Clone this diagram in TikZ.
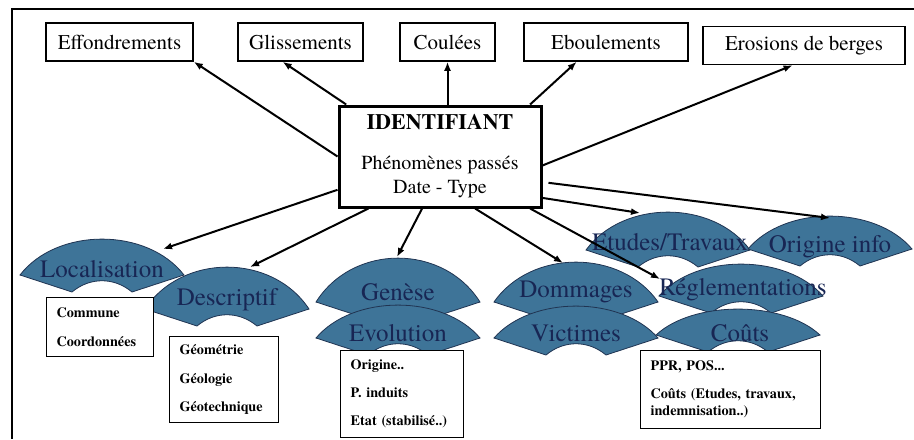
\documentclass[tikz,border=0pt]{standalone}
\usepackage{fontspec}
\setmainfont{TeX Gyre Termes}
\usepackage{xcolor}
\usepackage{tikz}
\usetikzlibrary{arrows.meta}

\definecolor{fanblue}{RGB}{62,116,152}
\definecolor{fanedge}{RGB}{32,52,82}
\definecolor{fantext}{RGB}{24,38,84}

\tikzset{
  topbox/.style={draw, line width=0.8pt, minimum height=19pt, inner sep=0pt,
    font=\fontsize{10.5}{12}\selectfont},
  fan/.style={fill=fanblue, draw=fanedge, line width=0.4pt},
  fanlabel/.style={text=fantext, inner sep=0pt, font=\fontsize{12.5}{14}\selectfont},
  infobox/.style={draw, line width=0.6pt, fill=white, anchor=north west, align=left,
    inner xsep=5pt, inner ysep=0pt, font=\fontsize{7.1}{8.5}\bfseries\selectfont},
  link/.style={line width=1pt, -{Latex[length=4.5pt,width=3.5pt]}}
}

% fan shape: centre x, tip line y, height of the outer arc
\newcommand{\fanarc}[3]{%
  \draw[fan] (#1-82,#2) .. controls (#1-45,#2-1.33*#3) and (#1+45,#2-1.33*#3) .. (#1+82,#2)
    -- (#1+30,#2+17) .. controls (#1+12,#2+2) and (#1-12,#2+2) .. (#1-30,#2+17) -- cycle ;}

\begin{document}
\begin{tikzpicture}[x=0.5pt,y=0.5pt,yscale=-1,xscale=1]
\useasboundingbox (0,0) rectangle (914,439);

%Straight Lines: frame
\draw[line width=1pt] (914,9) -- (12,9) -- (12,439) ;

% Text Node: phenomena types
\node[topbox, minimum width=73.5pt] (effond) at (119.5,42) {Effondrements};
\node[topbox, minimum width=62.5pt] (glis) at (300.5,42) {Glissements};
\node[topbox, minimum width=47.5pt] (coul) at (447.5,42) {Coulées};
\node[topbox, minimum width=82pt] (ebou) at (606,42) {Eboulements};
\node[topbox, minimum width=101pt] (eros) at (804,45.5) {Erosions de berges};

% Text Node: identifier
\node[draw, line width=1.5pt, minimum width=101pt, minimum height=50.5pt, inner sep=0pt,
  align=center, font=\fontsize{10}{12}\selectfont] (ident) at (440,156.5)
  {{\fontsize{11}{12}\bfseries IDENTIFIANT}\\[8pt]Phénomènes passés\\Date - Type};

%Shape: fans
\fanarc{102}{275}{36}
\fanarc{227}{309}{42}
\fanarc{398}{302}{44}
\fanarc{398}{338}{33}
\fanarc{576}{302}{40}
\fanarc{576}{338}{32}
\fanarc{668}{250}{38}
\fanarc{830}{249}{33}
\fanarc{741}{296}{32}
\fanarc{738}{335}{26}

% Text Node: fan labels
\node[fanlabel] (loc) at (102,269) {Localisation};
\node[fanlabel] (desc) at (227,300) {Descriptif};
\node[fanlabel] (gen) at (398,292) {Genèse};
\node[fanlabel] (evo) at (398,333) {Evolution};
\node[fanlabel] (dom) at (576,292) {Dommages};
\node[fanlabel] (vic) at (576,333) {Victimes};
\node[fanlabel] (etu) at (670,242) {Etudes/Travaux};
\node[fanlabel] (ori) at (830,247) {Origine info};
\node[fanlabel] (regl) at (743,290) {Réglementations};
\node[fanlabel] (cout) at (740,333) {Coûts};

% Text Node: details
\node[infobox, minimum height=29.5pt, text width=43.5pt] (commbox) at (46,297)
  {Commune\\[6pt]Coordonnées};
\node[infobox, minimum height=43pt, text width=44.5pt] (geobox) at (169,336)
  {Géométrie\\[5.75pt]Géologie\\[5.75pt]Géotechnique};
\node[infobox, minimum height=43.5pt, text width=51.5pt] (origbox) at (340,350)
  {Origine..\\[5.5pt]P. induits\\[5.5pt]Etat (stabilisé..)};
\node[infobox, minimum height=39pt, text width=80pt] (pprbox) at (640,350)
  {PPR, POS...\\[5.5pt]Coûts (Etudes, travaux,\\indemnisation..)};

% arrow ends on the fans
\coordinate (loc-in) at (163,249);
\coordinate (desc-in) at (250,267);
\coordinate (gen-in) at (397,257);
\coordinate (dom-in) at (563,263);
\coordinate (regl-in) at (660,279);
\coordinate (etu-in) at (640,213);
\coordinate (ori-in) at (830,218);

%Straight Lines: arrows
\draw[link] (ident.west) -- (effond.south east) ;
\draw[link] (ident.151) -- (glis.228) ;
\draw[link] (coul.south |- ident.north) -- (coul.south) ;
\draw[link] (ident.30) -- (ebou.214) ;
\draw[link] (ident.-5) -- (eros.240) ;
\draw[link] (ident.198) -- (loc-in) ;
\draw[link] (ident.216) -- (desc-in) ;
\draw[link] (ident.251) -- (gen-in) ;
\draw[link] (ident.304) -- (dom-in) ;
\draw[link] (ident.330) -- (regl-in) ;
\draw[link] (ident.338) -- (etu-in) ;
\draw[link, shorten <=3pt] (ident.346) -- (ori-in) ;

\end{tikzpicture}
\end{document}
